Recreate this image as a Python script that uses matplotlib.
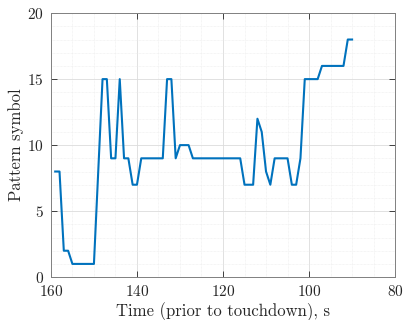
import matplotlib
matplotlib.use("Agg")
import matplotlib.pyplot as plt
from matplotlib.ticker import MultipleLocator

time_s = [159, 158, 157, 156, 155, 154, 153, 152, 151, 150,
          148, 147, 146, 145, 144, 143, 142, 141, 140, 139,
          138, 137, 136, 135, 134, 133, 132, 131, 130, 129,
          128, 127, 126, 125, 124, 123, 122, 121, 120, 119,
          118, 117, 116, 115, 114, 113, 112, 111, 110, 109,
          108, 107, 106, 105, 104, 103, 102, 101, 100, 99,
          98, 97, 96, 95, 94, 93, 92, 91, 90]
pattern = [8, 8, 2, 2, 1, 1, 1, 1, 1, 1,
           15, 15, 9, 9, 15, 9, 9, 7, 7, 9,
           9, 9, 9, 9, 9, 15, 15, 9, 10, 10,
           10, 9, 9, 9, 9, 9, 9, 9, 9, 9,
           9, 9, 9, 7, 7, 7, 12, 11, 8, 7,
           9, 9, 9, 9, 7, 7, 9, 15, 15, 15,
           15, 16, 16, 16, 16, 16, 16, 18, 18]

plt.rcParams['font.family'] = 'serif'
plt.rcParams['font.serif'] = ['cmr10', 'DejaVu Serif']
plt.rcParams['mathtext.fontset'] = 'cm'
plt.rcParams['axes.formatter.use_mathtext'] = True

fig = plt.figure(figsize=(4.04, 3.2), dpi=100)
ax = fig.add_axes([0.126, 0.134, 0.852, 0.825])
ax.plot(time_s, pattern, color='#0072BD', linewidth=1.5)

ax.set_xlim(160, 80)
ax.set_ylim(0, 20)
ax.xaxis.set_major_locator(MultipleLocator(20))
ax.xaxis.set_minor_locator(MultipleLocator(5))
ax.yaxis.set_major_locator(MultipleLocator(5))
ax.yaxis.set_minor_locator(MultipleLocator(1))
ax.grid(True, which='major', color='#dcdcdc', linewidth=0.6)
ax.grid(True, which='minor', color='#ececec', linewidth=0.5, linestyle=(0, (1, 1)))
ax.set_axisbelow(True)
ax.tick_params(which='both', direction='in', top=True, right=True,
               colors='#262626', labelsize=11)
ax.tick_params(which='major', length=4, width=0.6)
ax.tick_params(axis='y', which='major', pad=5)
ax.tick_params(axis='x', which='major', pad=5)
ax.tick_params(which='minor', length=0)
for s in ax.spines.values():
    s.set_color('#808080')
    s.set_linewidth(0.7)

ax.set_xlabel('Time (prior to touchdown), s', fontsize=12, color='#262626', labelpad=2)
ax.set_ylabel('Pattern symbol', fontsize=12, color='#262626', labelpad=2)

fig.savefig('out.png', dpi=100)
